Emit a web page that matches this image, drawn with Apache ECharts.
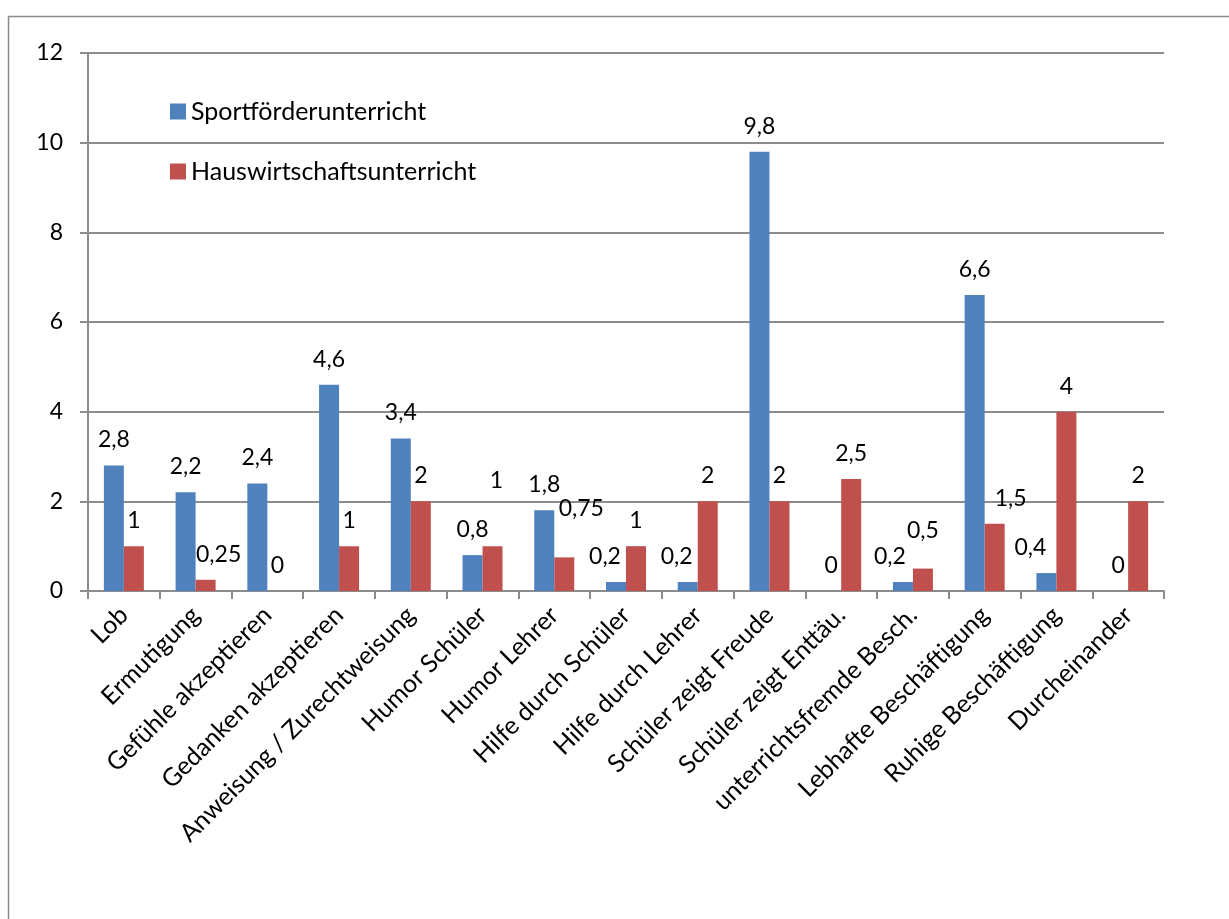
<!DOCTYPE html>
<html>
<head>
<meta charset="utf-8">
<script src="https://cdn.jsdelivr.net/npm/echarts@6/dist/echarts.min.js"></script>
<style>
html,body{margin:0;padding:0;background:#fff;}
#c{width:1229px;height:919px;}
</style>
</head>
<body>
<div id="c"></div>
<script>
const categories = ["Lob","Ermutigung","Gefühle akzeptieren","Gedanken akzeptieren","Anweisung / Zurechtweisung","Humor Schüler","Humor Lehrer","Hilfe durch Schüler","Hilfe durch Lehrer","Schüler zeigt Freude","Schüler zeigt Enttäu.","unterrichtsfremde Besch.","Lebhafte Beschäftigung","Ruhige Beschäftigung","Durcheinander"];
const seriesNames = ["Sportförderunterricht","Hauswirtschaftsunterricht"];
const sport = [2.8,2.2,2.4,4.6,3.4,0.8,1.8,0.2,0.2,9.8,0,0.2,6.6,0.4,0];
const haus = [1,0.25,0,1,2,1,0.75,1,2,2,2.5,0.5,1.5,4,2];
const yTicks = {min:0, max:12, interval:2};

// label placement tweaks (style only, pixel offsets), keyed by category index
const sportLabelOffsets = {7:[-11,0], 8:[-11,0], 11:[-13,0], 13:[-16,0]};
const hausLabelOffsets = {1:[13,0], 5:[4,-40], 6:[17,-23], 11:[0,-13], 12:[16,0]};

const FONT = 'Lato';
const fmt = v => String(v).replace('.', ',');

function buildData(values, offsets){
  return values.map((v,i) => offsets[i] ? {value:v, label:{offset:offsets[i]}} : v);
}

const chart = echarts.init(document.getElementById('c'), null, {renderer:'canvas'});
const gridColor = '#8c8c8c';
const labelStyle = {show:true, position:'top', distance:14, color:'#000', fontFamily:FONT, fontSize:23,
  formatter: p => fmt(p.value)};

chart.setOption({
  animation:false,
  backgroundColor:'#fff',
  graphic:[{type:'rect', shape:{x:8.5, y:16.5, width:1400, height:1200}, style:{fill:'none', stroke:'#8a8a8a', lineWidth:1.5}, silent:true, z:-10}],
  grid:{left:88, top:53, right:65, bottom:328, containLabel:false},
  legend:{
    orient:'vertical', left:170, top:99, padding:0, itemWidth:16, itemHeight:16, itemGap:35,
    icon:'rect', selectedMode:false,
    textStyle:{fontFamily:FONT, fontSize:25, color:'#000'},
    data:seriesNames
  },
  xAxis:{
    type:'category', data:categories,
    axisLine:{lineStyle:{color:gridColor, width:2}},
    axisTick:{show:true, length:8, lineStyle:{color:gridColor, width:2}, alignWithLabel:false},
    axisLabel:{interval:0, rotate:45, margin:20, color:'#000', fontFamily:FONT, fontSize:25}
  },
  yAxis:{
    type:'value', min:yTicks.min, max:yTicks.max, interval:yTicks.interval,
    axisLine:{show:true, lineStyle:{color:gridColor, width:2}},
    axisTick:{show:true, length:8, lineStyle:{color:gridColor, width:2}},
    splitLine:{lineStyle:{color:gridColor, width:2}},
    axisLabel:{margin:25, color:'#000', fontFamily:FONT, fontSize:23}
  },
  series:[
    {name:seriesNames[0], type:'bar', barWidth:20, barGap:'0%', itemStyle:{color:'#4F81BD'},
     label:labelStyle, data:buildData(sport, sportLabelOffsets)},
    {name:seriesNames[1], type:'bar', barWidth:20, barGap:'0%', itemStyle:{color:'#C0504D'},
     label:labelStyle, data:buildData(haus, hausLabelOffsets)}
  ]
});
</script>
</body>
</html>
